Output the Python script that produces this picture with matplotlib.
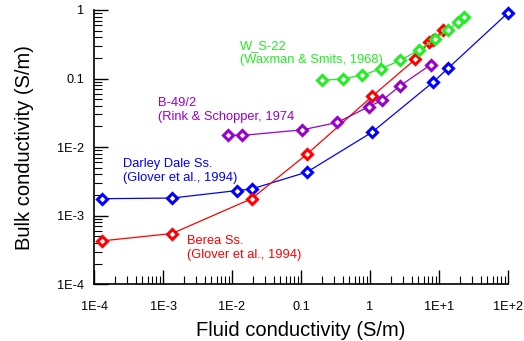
import numpy as np
import matplotlib
matplotlib.use("Agg")
import matplotlib.pyplot as plt
from matplotlib.ticker import LogLocator, FixedFormatter, FixedLocator, NullFormatter

plt.rcParams['font.family'] = ['Liberation Sans', 'DejaVu Sans']

# Darley Dale Ss. (Glover et al., 1994)
darley_x = [1.3e-4, 1.35e-3, 0.0119, 0.0197, 0.122, 1.07, 8.3, 13.7, 100]
darley_y = [1.77e-3, 1.81e-3, 2.33e-3, 2.47e-3, 4.33e-3, 0.0165, 0.0895, 0.143, 0.91]

# Berea Ss. (Glover et al., 1994)
berea_x = [1.32e-4, 1.35e-3, 0.0192, 0.122, 1.07, 4.5, 7.1, 8.3, 11.6]
berea_y = [4.3e-4, 5.5e-4, 1.77e-3, 7.9e-3, 0.055, 0.19, 0.34, 0.37, 0.51]

# B-49/2 (Rink & Schopper, 1974)
rink_x = [8.7e-3, 0.0138, 0.105, 0.335, 0.96, 1.5, 2.76, 7.6]
rink_y = [0.0151, 0.0148, 0.0179, 0.0229, 0.039, 0.048, 0.079, 0.16]

# W_S-22 (Waxman & Smits, 1968)
waxman_x = [0.204, 0.40, 0.77, 1.45, 2.76, 5.06, 8.8, 13.7, 18.7, 22.7]
waxman_y = [0.094, 0.099, 0.112, 0.139, 0.185, 0.259, 0.38, 0.51, 0.67, 0.80]

x_ticks = [1e-4, 1e-3, 1e-2, 0.1, 1, 10, 100]
x_labels = ['1E-4', '1E-3', '1E-2', '0.1', '1', '1E+1', '1E+2']
y_ticks = [1e-4, 1e-3, 1e-2, 0.1, 1]
y_labels = ['1E-4', '1E-3', '1E-2', '0.1', '1']

fig = plt.figure(figsize=(5.24, 3.41), dpi=100)
ax = fig.add_axes([0.1794, 0.1663, 0.7901, 0.8044])

series = [
    (darley_x, darley_y, '#0000ff'),
    (berea_x, berea_y, '#ff0000'),
    (rink_x, rink_y, '#9900cc'),
    (waxman_x, waxman_y, '#22ee22'),
]
for xs, ys, c in series:
    ax.plot(xs, ys, '-', color=c, lw=0.9, marker='D', ms=4.8, mew=2.2,
            mec=c, mfc='white', clip_on=False)

ax.set_xscale('log')
ax.set_yscale('log')
ax.set_xlim(1e-4, 100)
ax.set_ylim(1e-4, 1)

ax.xaxis.set_major_locator(FixedLocator(x_ticks))
ax.xaxis.set_major_formatter(FixedFormatter(x_labels))
ax.yaxis.set_major_locator(FixedLocator(y_ticks))
ax.yaxis.set_major_formatter(FixedFormatter(y_labels))
ax.xaxis.set_minor_locator(LogLocator(base=10, subs=np.arange(2, 10), numticks=20))
ax.yaxis.set_minor_locator(LogLocator(base=10, subs=np.arange(2, 10), numticks=20))
ax.xaxis.set_minor_formatter(NullFormatter())
ax.yaxis.set_minor_formatter(NullFormatter())

ax.spines['top'].set_visible(False)
ax.spines['right'].set_visible(False)
for s in ['left', 'bottom']:
    ax.spines[s].set_linewidth(1.2)

ax.tick_params(which='major', direction='in', length=10, width=1.0,
               labelsize=9.2, top=False, right=False)
ax.tick_params(which='minor', direction='in', length=5.5, width=0.8,
               top=False, right=False)
ax.tick_params(axis='x', which='major', pad=12)
ax.tick_params(axis='y', which='major', pad=7)

ax.set_xlabel('Fluid conductivity (S/m)', fontsize=14.5, labelpad=6)
ax.set_ylabel('Bulk conductivity (S/m)', fontsize=14.5, labelpad=17)

fs = 9.3
ls = 1.25
ax.text(0.0131, 0.238, 'W_S-22\n(Waxman & Smits, 1968)', color='#22ee22',
        fontsize=fs, va='center', ha='left', linespacing=ls)
ax.text(8.5e-4, 0.0344, 'B-49/2\n(Rink & Schopper, 1974', color='#9900cc',
        fontsize=fs, va='center', ha='left', linespacing=ls)
ax.text(2.6e-4, 4.5e-3, 'Darley Dale Ss.\n(Glover et al., 1994)', color='#0000ff',
        fontsize=fs, va='center', ha='left', linespacing=ls)
ax.text(2.2e-3, 3.39e-4, 'Berea Ss.\n(Glover et al., 1994)', color='#ff0000',
        fontsize=fs, va='center', ha='left', linespacing=ls)

fig.savefig('out.png', dpi=100)
